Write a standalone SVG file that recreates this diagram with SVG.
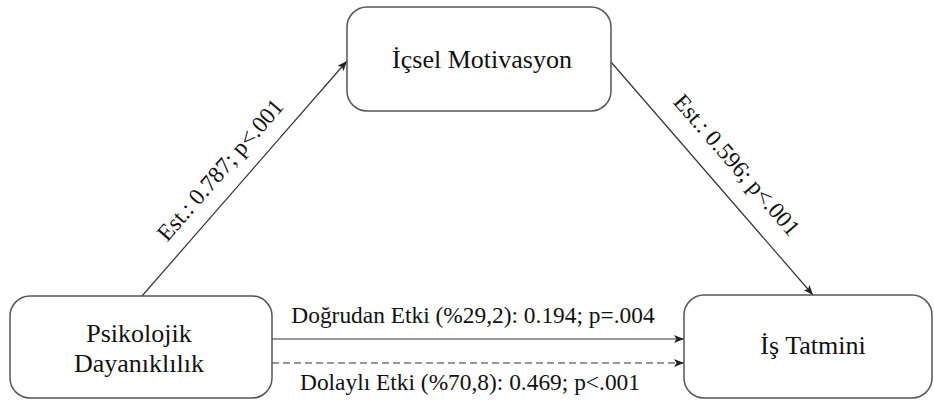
<svg xmlns="http://www.w3.org/2000/svg" width="934" height="400" viewBox="0 0 934 400">
<style>
.box{fill:#fff;stroke:#555;stroke-width:1.5}
.t{font-family:"Liberation Serif","Times New Roman",serif;fill:#111;text-anchor:middle}
.n{font-size:26px}
.e{font-size:23.4px}
.c{stroke:#333;stroke-width:1.2;fill:none;marker-end:url(#ah)}
</style>
<defs>
<marker id="ah" viewBox="0 0 10 8" refX="10" refY="4" markerWidth="10" markerHeight="8" markerUnits="userSpaceOnUse" orient="auto">
<path d="M0,0 L10,4 L0,8 L2.5,4 Z" fill="#222"/>
</marker>
</defs>
<rect width="934" height="400" fill="#fff"/>
<g id="connectors">
<line class="c" x1="142" y1="296" x2="347" y2="61"/>
<line class="c" x1="611" y1="62" x2="813" y2="295"/>
<line class="c" x1="272" y1="339" x2="684" y2="339"/>
<line class="c" x1="272" y1="363" x2="684" y2="363" stroke-dasharray="7,4"/>
<text class="t e" transform="translate(226,175) rotate(-49)">Est.: 0.787; p&lt;.001</text>
<text class="t e" transform="translate(731,170) rotate(49)">Est.: 0.596; p&lt;.001</text>
<text class="t e" x="473" y="323">Doğrudan Etki (%29,2): 0.194; p=.004</text>
<text class="t e" x="470" y="390">Dolaylı Etki (%70,8): 0.469; p&lt;.001</text>
</g>
<g id="node-icsel">
<rect class="box" x="347" y="7" width="264" height="104" rx="20"/>
<text class="t n" x="482" y="68">İçsel Motivasyon</text>
</g>
<g id="node-psikolojik">
<rect class="box" x="10" y="296" width="262" height="102" rx="20"/>
<text class="t n" x="139" y="342">Psikolojik</text>
<text class="t n" x="139" y="372">Dayanıklılık</text>
</g>
<g id="node-is">
<rect class="box" x="684" y="295" width="248" height="103" rx="20"/>
<text class="t n" x="813" y="354">İş Tatmini</text>
</g>
</svg>
